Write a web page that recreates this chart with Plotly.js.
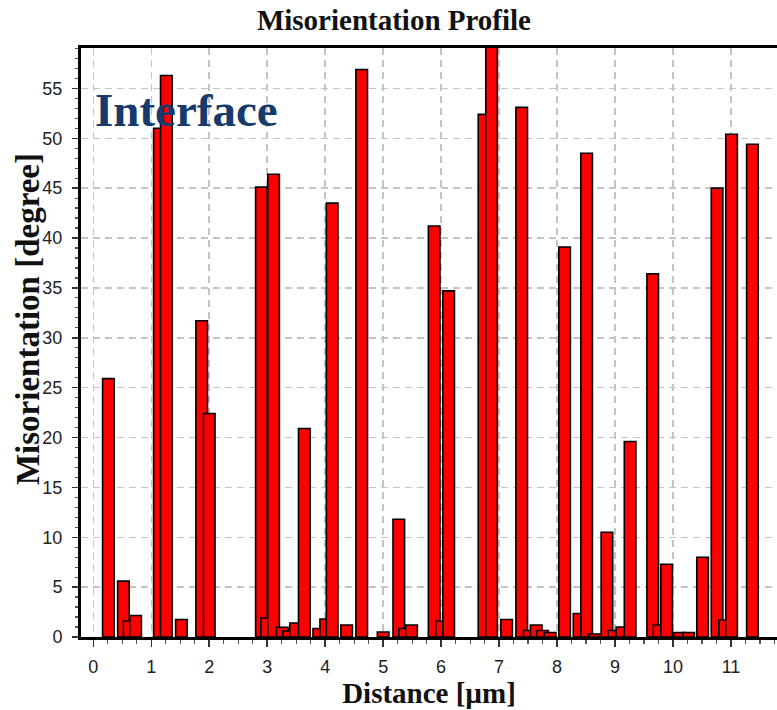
<!DOCTYPE html>
<html>
<head>
<meta charset="utf-8">
<script src="https://cdn.plot.ly/plotly-3.0.1.min.js"></script>
<style>
  html, body { margin: 0; padding: 0; background: #ffffff; overflow: hidden; }
  #chart { width: 777px; height: 710px; }
</style>
</head>
<body>
<div id="chart"></div>
<script>
// Distance along the profile (µm) – bar centres
const distance = [
  0.26, 0.52, 0.62, 0.73, 1.14, 1.26, 1.52, 1.87, 2.00,
  2.90, 2.99, 3.11, 3.26, 3.37, 3.49, 3.64, 3.89, 4.01, 4.12, 4.37, 4.63,
  5.00, 5.27, 5.37, 5.49, 5.88, 6.01, 6.13, 6.74, 6.87,
  7.13, 7.39, 7.52, 7.64, 7.75, 7.88, 8.13, 8.38, 8.51, 8.64,
  8.86, 8.98, 9.12, 9.26, 9.65, 9.76, 9.89, 10.11, 10.27,
  10.51, 10.76, 10.89, 11.01, 11.37
];
// Misorientation (degree)
const misorientation = [
  25.9, 5.6, 1.6, 2.15, 51.0, 56.3, 1.75, 31.7, 22.4,
  45.1, 1.9, 46.4, 0.98, 0.6, 1.4, 20.9, 0.85, 1.8, 43.5, 1.2, 56.9,
  0.5, 11.8, 0.85, 1.2, 41.2, 1.6, 34.7, 52.4, 59.5,
  1.75, 53.1, 0.65, 1.2, 0.65, 0.45, 39.1, 2.35, 48.5, 0.3,
  10.5, 0.65, 1.0, 19.6, 36.4, 1.2, 7.3, 0.45, 0.45,
  8.0, 45.0, 1.7, 50.4, 49.4
];
const xTickValues = [0, 1, 2, 3, 4, 5, 6, 7, 8, 9, 10, 11];
const yTickValues = [0, 5, 10, 15, 20, 25, 30, 35, 40, 45, 50, 55];

const serif = 'Liberation Serif, Times New Roman, serif';
const sans = 'Liberation Sans, Arial, sans-serif';

const trace = {
  type: 'bar',
  x: distance,
  y: misorientation,
  width: distance.map(() => 0.2),
  marker: { color: '#ff0000', line: { color: '#000000', width: 1.6 } },
  hoverinfo: 'x+y'
};

const gridStyle = { showgrid: true, gridcolor: '#c4c4c4', gridwidth: 1.5, griddash: '7px,5px' };

const layout = {
  width: 777,
  height: 710,
  margin: { l: 81, r: 0, t: 48, b: 73 },
  paper_bgcolor: '#ffffff',
  plot_bgcolor: '#ffffff',
  showlegend: false,
  title: {
    text: 'Misorientation Profile',
    font: { family: serif, size: 29, color: '#111111', weight: 'bold' },
    xref: 'container', yref: 'container',
    x: 0.507, y: 0.972, xanchor: 'center', yanchor: 'middle'
  },
  xaxis: Object.assign({
    range: [-0.212, 11.794],
    tickmode: 'array',
    tickvals: xTickValues,
    ticktext: xTickValues.map(String),
    ticks: 'outside', ticklen: 7, tickwidth: 1.5, tickcolor: '#333333',
    minor: { dtick: 0.25, tick0: 0, ticks: 'outside', ticklen: 4, tickwidth: 1.2, tickcolor: '#555555', showgrid: false },
    tickfont: { family: sans, size: 18, color: '#222222' },
    ticklabelstandoff: 4,
    showline: true, linecolor: '#000000', linewidth: 3, mirror: true,
    zeroline: false,
    title: { text: 'Distance [µm]', font: { family: serif, size: 29, color: '#111111', weight: 'bold' }, standoff: 6 }
  }, gridStyle),
  yaxis: Object.assign({
    range: [0, 59.05],
    tickmode: 'array',
    tickvals: yTickValues,
    ticktext: yTickValues.map(String),
    ticks: 'outside', ticklen: 6, tickwidth: 1.5, tickcolor: '#333333',
    minor: { dtick: 1, tick0: 0, ticks: 'outside', ticklen: 3, tickwidth: 1.2, tickcolor: '#555555', showgrid: false },
    tickfont: { family: sans, size: 18, color: '#222222' },
    ticklabelstandoff: 6,
    showline: true, linecolor: '#000000', linewidth: 3, mirror: false,
    zeroline: false
  }, gridStyle),
  annotations: [{
    text: 'Interface',
    xref: 'paper', yref: 'paper',
    x: 0.0172, y: 0.895, xanchor: 'left', yanchor: 'middle',
    showarrow: false,
    font: { family: serif, size: 47, color: '#163a6b', weight: 'bold' }
  }, {
    text: 'Misorientation [degree]',
    xref: 'paper', yref: 'paper',
    x: -0.076, y: 0.54, xanchor: 'center', yanchor: 'middle',
    textangle: -90,
    showarrow: false,
    font: { family: serif, size: 33, color: '#111111', weight: 'bold' }
  }]
};

Plotly.newPlot('chart', [trace], layout, { displayModeBar: false, staticPlot: true });
</script>
</body>
</html>
